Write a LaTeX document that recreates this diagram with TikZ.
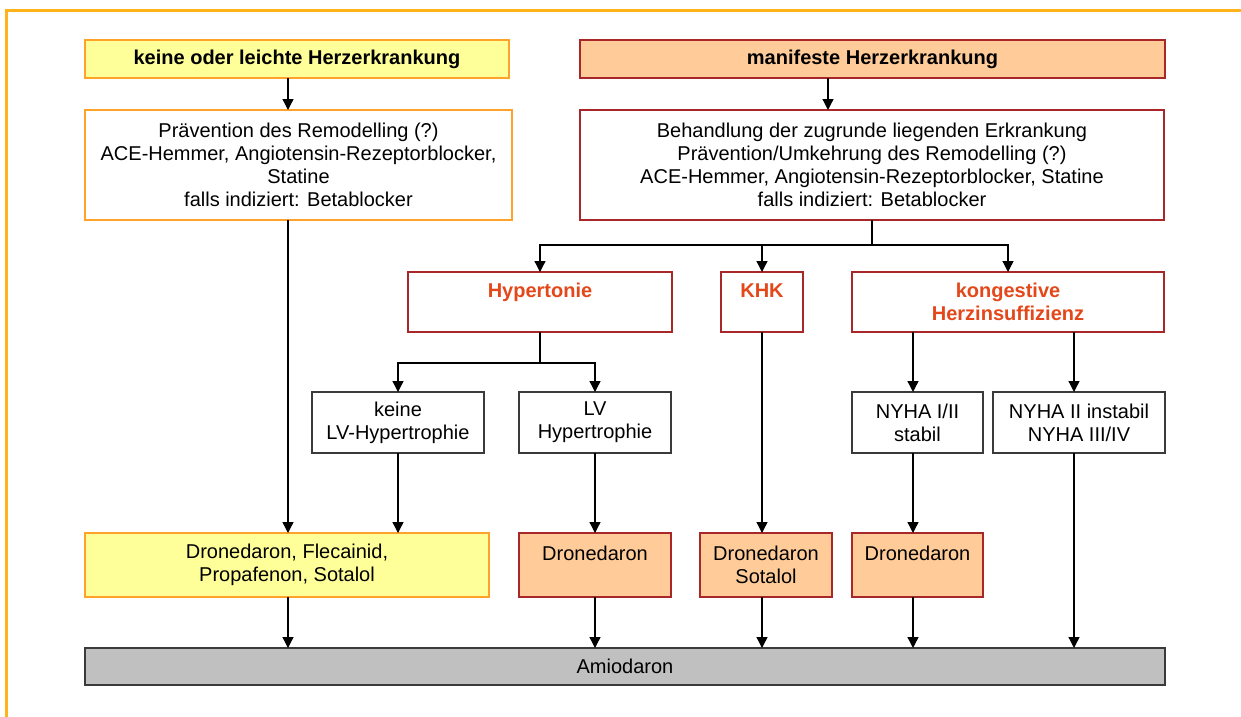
\documentclass[tikz,border=0pt]{standalone}
\usepackage{fontspec}
\setmainfont{Liberation Sans}
\usetikzlibrary{arrows.meta}
\definecolor{frameor}{HTML}{FFB31A}
\definecolor{yelfill}{HTML}{FFFF99}
\definecolor{yelline}{HTML}{FFA229}
\definecolor{salfill}{HTML}{FFCC99}
\definecolor{redline}{HTML}{A8282A}
\definecolor{redtext}{HTML}{E4481A}
\definecolor{grayfill}{HTML}{C0C0C0}
\definecolor{grayline}{HTML}{3A3A3A}
\tikzset{
  bx/.style={draw, line width=1.2pt, anchor=north west, inner sep=0pt, outer sep=0pt,
    align=center, font=\fontsize{20}{23}\selectfont},
  yelbox/.style={bx, draw=yelline, fill=yelfill},
  orwbox/.style={bx, draw=yelline, fill=white},
  salbox/.style={bx, draw=redline, fill=salfill},
  redwbox/.style={bx, draw=redline, fill=white},
  plainbox/.style={bx, draw=grayline, fill=white},
  graybox/.style={bx, draw=grayline, fill=grayfill},
  rtext/.style={text=redtext, font=\fontsize{20}{23}\selectfont\bfseries},
  arr/.style={draw=black, line width=1.3pt, -{Triangle[length=11pt,width=11pt]}},
  ln/.style={draw=black, line width=1.3pt}
}
\begin{document}
\begin{tikzpicture}[x=1pt,y=-1pt]
\useasboundingbox (0,0) rectangle (1241,716);
\draw[frameor, line width=3pt] (6,720) -- (6,10) -- (1245,10);

\node[yelbox, font=\fontsize{20}{23}\selectfont\bfseries, minimum width=424, minimum height=38] (A) at (85,40) {keine oder leichte Herzerkrankung};
\node[orwbox, minimum width=427, minimum height=110] (B) at (85,110) {Prävention des Remodelling (?)\\ACE-Hemmer, Angiotensin-Rezeptorblocker,\\Statine\\falls indiziert: Betablocker};
\node[salbox, font=\fontsize{20}{23}\selectfont\bfseries, minimum width=585, minimum height=38] (C) at (580,40) {manifeste Herzerkrankung};
\node[redwbox, minimum width=584, minimum height=110] (D) at (580,110) {Behandlung der zugrunde liegenden Erkrankung\\Prävention/Umkehrung des Remodelling (?)\\ACE-Hemmer, Angiotensin-Rezeptorblocker, Statine\\falls indiziert: Betablocker};

\node[redwbox, rtext, minimum width=264, minimum height=60] (Hyp) at (408,272) {Hypertonie\\\mbox{}};
\node[redwbox, rtext, minimum width=82, minimum height=60] (KHK) at (721,272) {KHK\\\mbox{}};
\node[redwbox, rtext, minimum width=312, minimum height=60] (Kong) at (852,272) {kongestive\\Herzinsuffizienz};

\node[plainbox, minimum width=172, minimum height=61] (kLV) at (312,392) {keine\\LV-Hypertrophie};
\node[plainbox, minimum width=152, minimum height=61] (LVH) at (519,392) {LV\\Hypertrophie};
\node[plainbox, minimum width=131, minimum height=61] (N1) at (852,392) {NYHA I/II\\stabil};
\node[plainbox, minimum width=172, minimum height=61] (N2) at (993,392) {NYHA II instabil\\NYHA III/IV};

\node[yelbox, minimum width=404, minimum height=64] (Y) at (85,533) {Dronedaron, Flecainid,\\Propafenon, Sotalol};
\node[salbox, minimum width=152, minimum height=64] (Dr1) at (519,533) {Dronedaron\\\mbox{}};
\node[salbox, minimum width=132, minimum height=64] (Dr2) at (700,533) {Dronedaron\\Sotalol};
\node[salbox, minimum width=131, minimum height=64] (Dr3) at (852,533) {Dronedaron\\\mbox{}};

\node[graybox, minimum width=1080, minimum height=37] (Am) at (85,648) {Amiodaron};

\coordinate (j1) at (872,245);
\coordinate (j2) at (540,363);

% top arrows
\draw[arr] (A.south -| 288,0) -- (B.north -| 288,0);
\draw[arr] (C.south -| 828,0) -- (D.north -| 828,0);

% D to three categories
\draw[ln] (D.south) -- (D.south |- j1);
\draw[arr] (D.south |- j1) -| (Hyp.north);
\draw[arr] (D.south |- j1) -| (Kong.north);
\draw[arr] (KHK.north |- j1) -- (KHK.north);

% Hypertonie split
\draw[ln] (Hyp.south) -- (Hyp.south |- j2);
\draw[arr] (Hyp.south |- j2) -| (kLV.north);
\draw[arr] (Hyp.south |- j2) -| (LVH.north);

% kongestive split
\draw[arr] (Kong.south -| 913,0) -- (N1.north -| 913,0);
\draw[arr] (Kong.south -| 1074,0) -- (N2.north -| 1074,0);

% to bottom drugs
\draw[arr] (B.south -| 288,0) -- (Y.north -| 288,0);
\draw[arr] (kLV.south) -- (kLV.south |- Y.north);
\draw[arr] (LVH.south) -- (LVH.south |- Dr1.north);
\draw[arr] (KHK.south) -- (KHK.south |- Dr2.north);
\draw[arr] (N1.south -| 913,0) -- (Dr3.north -| 913,0);
\draw[arr] (N2.south -| 1074,0) -- (Am.north -| 1074,0);

% to Amiodaron
\draw[arr] (Y.south -| 288,0) -- (Am.north -| 288,0);
\draw[arr] (Dr1.south) -- (Dr1.south |- Am.north);
\draw[arr] (Dr2.south -| KHK.south) -- (Am.north -| KHK.south);
\draw[arr] (Dr3.south -| 913,0) -- (Am.north -| 913,0);
\end{tikzpicture}
\end{document}
